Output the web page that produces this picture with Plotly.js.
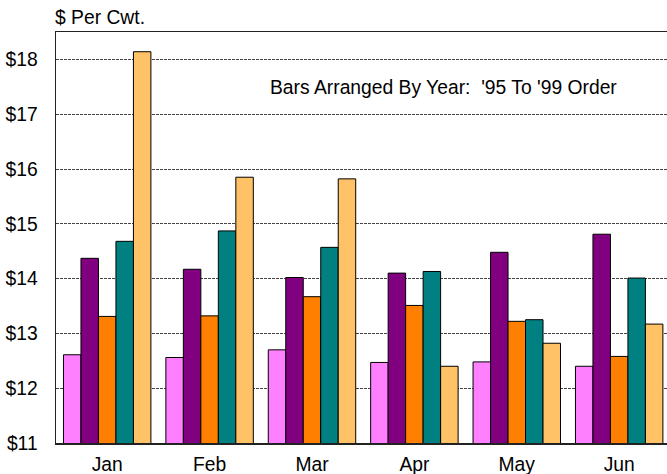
<!DOCTYPE html>
<html>
<head>
<meta charset="utf-8">
<script src="https://cdn.plot.ly/plotly-3.0.1.min.js"></script>
<style>html,body{margin:0;padding:0;background:#fff;}#chart{width:667px;height:474px;}</style>
</head>
<body>
<div id="chart"></div>
<script>
const months = ["Jan", "Feb", "Mar", "Apr", "May", "Jun"];
const years = ["'95", "'96", "'97", "'98", "'99"];
const y95 = [12.61, 12.56, 12.70, 12.47, 12.48, 12.40];
const y96 = [14.37, 14.17, 14.02, 14.10, 14.48, 14.81];
const y97 = [13.31, 13.32, 13.67, 13.51, 13.22, 12.58];
const y98 = [14.68, 14.87, 14.57, 14.13, 13.25, 14.01];
const y99 = [18.14, 15.85, 15.82, 12.40, 12.82, 13.17];
const yTickVals = [11, 12, 13, 14, 15, 16, 17, 18];
const yTickText = ["$11", "$12", "$13", "$14", "$15", "$16", "$17", "$18"];
const colors = ["#FF80FF", "#800080", "#FF8000", "#008080", "#FFC266"];
const series = [y95, y96, y97, y98, y99];

const traces = series.map((vals, i) => ({
  type: "bar",
  name: years[i],
  x: months,
  y: vals,
  marker: {color: colors[i], line: {color: "#000", width: 1}},
  hoverinfo: "skip"
}));

const FS = 19.3;
const layout = {
  width: 667, height: 474,
  margin: {l: 56, r: 0, t: 32, b: 31, pad: 0},
  paper_bgcolor: "#fff", plot_bgcolor: "#fff",
  barmode: "group", bargap: 0.146, bargroupgap: 0,
  showlegend: false,
  font: {family: "Liberation Sans, Arial, sans-serif", size: FS, color: "#000"},
  title: {
    text: "$ Per Cwt.", xref: "container", yref: "container",
    x: 55 / 667, xanchor: "left", y: 1 - 17 / 474, yanchor: "middle",
    font: {size: FS}
  },
  xaxis: {
    type: "category", range: [-0.5, 5.467],
    showline: true, linecolor: "#222", linewidth: 1.5, mirror: true,
    ticks: "", ticklabelstandoff: 3, showgrid: false, zeroline: false,
    tickfont: {size: FS}, fixedrange: true
  },
  yaxis: {
    range: [11, 18.5],
    tickvals: yTickVals, ticktext: yTickText,
    showline: true, linecolor: "#222", linewidth: 1.5,
    ticks: "", ticklabelstandoff: 13,
    showgrid: true, gridcolor: "#444", gridwidth: 1, griddash: "3px,1px",
    zeroline: false, tickfont: {size: FS}, fixedrange: true
  },
  annotations: [
    {text: "Bars Arranged By Year:\u00a0\u00a0'95 To '99 Order", xref: "paper", yref: "paper",
     x: (268 - 56) / 611, y: 0.864, xanchor: "left", yanchor: "middle", showarrow: false,
     font: {size: FS}}
  ]
};

Plotly.newPlot("chart", traces, layout, {displayModeBar: false, staticPlot: true});
</script>
</body>
</html>
